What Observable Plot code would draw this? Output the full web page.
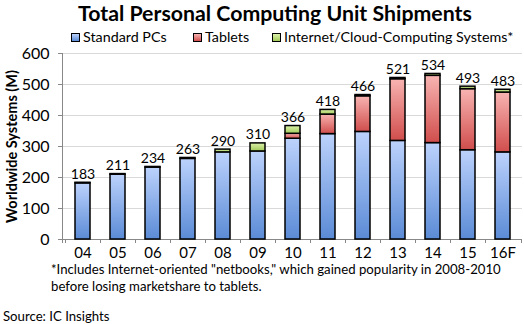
<!DOCTYPE html>
<html><head><meta charset="utf-8">
<script src="https://cdn.jsdelivr.net/npm/d3@7"></script>
<script src="https://cdn.jsdelivr.net/npm/@observablehq/plot@0.6"></script>
<style>
body{margin:0;width:524px;height:324px;position:relative;background:#fff;font-family:Lato,"Open Sans",sans-serif;color:#000;overflow:hidden}
.abs{position:absolute;white-space:nowrap}
#title{top:0;left:78px;font-weight:bold;font-size:21.3px;line-height:26px}
.leg{top:28px;font-size:14.3px;line-height:18px;display:flex;align-items:center}
.sw{width:7px;height:7px;border:1px solid #000;margin-right:3px}
.note{font-size:13.2px;line-height:17px}
#chart svg text{fill:#000}
</style></head><body>
<div id="title" class="abs">Total Personal Computing Unit Shipments</div>
<div id="legend"></div>
<div id="chart" class="abs" style="top:40px;left:0"></div>
<div class="abs note" id="note1" style="left:51px;top:261px"></div>
<div class="abs note" id="note2" style="left:51px;top:278px"></div>
<div class="abs note" id="source" style="left:3px;top:308px"></div>
<script>
const years = ["04","05","06","07","08","09","10","11","12","13","14","15","16F"];
const seriesNames = ["Standard PCs","Tablets","Internet/Cloud-Computing Systems*"];
const pcs     = [181,209,232,260,281,284,325,340,347,318,311,288,281];
const tablets = [0,0,0,0,0,0,16,63,115,199,217,197,193];
const ics     = [2,2,2,3,9,26,25,15,4,4,6,8,9];
const totals  = [183,211,234,263,290,310,366,418,466,521,534,493,483];
const yTicks  = [0,100,200,300,400,500,600];
const yLabel = "Worldwide Systems (M)";
const footnote1 = "*Includes Internet-oriented \"netbooks,\" which gained popularity in 2008-2010";
const footnote2 = "before losing marketshare to tablets.";
const sourceText = "Source: IC Insights";

const grads = [
  {id:"gBlue", top:"#bcd2fc", bottom:"#5b8bd6"},
  {id:"gRed", top:"#f8b4b2", bottom:"#d04e4c"},
  {id:"gGreen", top:"#dcf1aa", bottom:"#a3cb5a"}
];

const seriesVals = [pcs, tablets, ics];
const rows = years.flatMap((yr, i) => seriesNames.map((s, k) => ({year: yr, series: s, value: seriesVals[k][i]}))).filter(d => d.value > 0);
const totalRows = years.map((yr, i) => ({year: yr, total: totals[i]}));

const plot = Plot.plot({
  width: 524, height: 224,
  marginLeft: 62, marginRight: 2, marginTop: 13, marginBottom: 25,
  style: {fontFamily: "Lato, 'Open Sans', sans-serif", background: "transparent"},
  x: {domain: years, paddingInner: 0.58, paddingOuter: 0.29, label: null},
  y: {domain: [0, 600], label: null},
  color: {domain: seriesNames, range: grads.map(g => `url(#${g.id})`)},
  marks: [
    Plot.gridY(yTicks, {stroke: "#d9d9d9", strokeOpacity: 1}),
    Plot.axisY(yTicks, {tickSize: 4, tickPadding: 9, fontSize: 16, stroke: "#888", label: null}),
    Plot.axisX({tickSize: 0, tickPadding: 8, fontSize: 15, label: null}),
    Plot.barY(rows, {x: "year", y: "value", fill: "series", stroke: "#000", strokeWidth: 1.5}),
    Plot.text(totalRows, {x: "year", y: "total", text: d => String(d.total), lineAnchor: "bottom", dy: -4, fontSize: 14}),
    Plot.text([yLabel], {frameAnchor: "left", textAnchor: "middle", rotate: -90, dx: -50, fontWeight: "bold", fontSize: 14.5})
  ]
});

const svg = d3.select(plot);
const defs = svg.insert("defs", ":first-child");
for (const g of grads) {
  const lg = defs.append("linearGradient").attr("id", g.id).attr("x1", 0).attr("y1", 0).attr("x2", 0).attr("y2", 1);
  lg.append("stop").attr("offset", "0%").attr("stop-color", g.top);
  lg.append("stop").attr("offset", "100%").attr("stop-color", g.bottom);
}
// axis lines and band-boundary ticks from the library's scales
const xs = plot.scale("x"), ys = plot.scale("y");
const y0 = ys.apply(0), yTop = ys.apply(600);
const left = xs.range[0], right = xs.range[1];
const ag = svg.append("g").attr("stroke", "#888").attr("stroke-width", 1);
ag.append("line").attr("x1", left + 0.5).attr("x2", left + 0.5).attr("y1", yTop).attr("y2", y0 + 4);
ag.append("line").attr("x1", left).attr("x2", right).attr("y1", y0 + 0.5).attr("y2", y0 + 0.5);
years.forEach((yr) => {
  const bx = Math.round(xs.apply(yr) + xs.bandwidth / 2 - xs.step / 2);
  ag.append("line").attr("x1", bx + 0.5).attr("x2", bx + 0.5).attr("y1", y0).attr("y2", y0 + 4);
});
ag.append("line").attr("x1", right - 0.5).attr("x2", right - 0.5).attr("y1", y0).attr("y2", y0 + 4);
svg.selectAll("g[aria-label='bar'], g[aria-label='text']").raise();
document.getElementById("chart").appendChild(plot);

// legend
const legPos = [71, 193, 272];
const legend = document.getElementById("legend");
seriesNames.forEach((s, k) => {
  const item = document.createElement("div");
  item.className = "abs leg";
  item.style.left = legPos[k] + "px";
  const sw = document.createElement("span");
  sw.className = "sw";
  sw.style.background = `linear-gradient(${grads[k].top}, ${grads[k].bottom})`;
  const t = document.createElement("span");
  t.textContent = s;
  item.appendChild(sw); item.appendChild(t);
  legend.appendChild(item);
});
document.getElementById("note1").textContent = footnote1;
document.getElementById("note2").textContent = footnote2;
document.getElementById("source").textContent = sourceText;
</script>
</body></html>
